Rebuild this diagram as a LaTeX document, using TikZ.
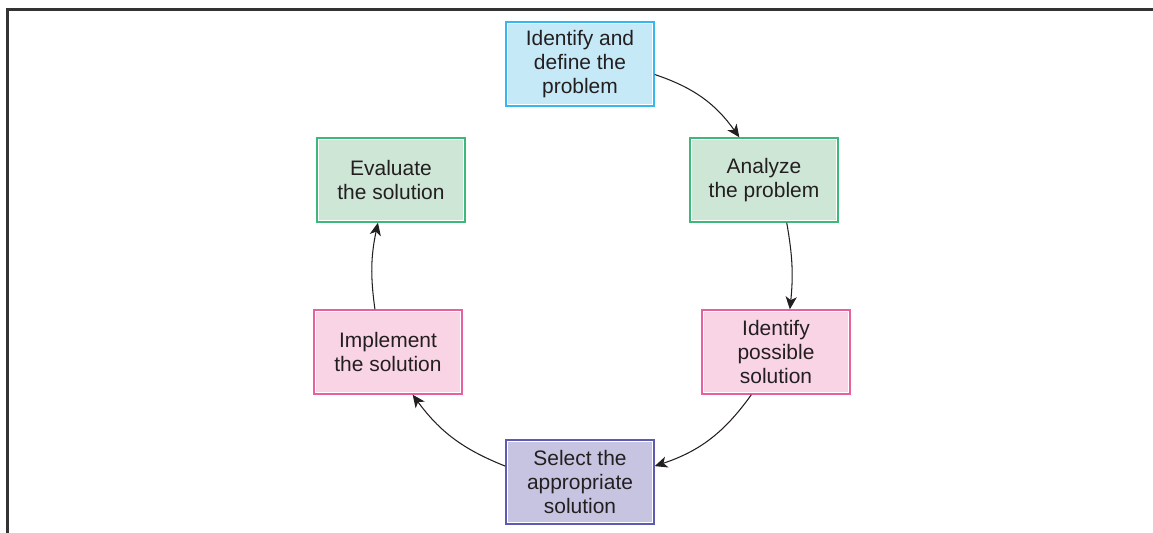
\documentclass[tikz,border=0pt]{standalone}
\usepackage{fontspec}
\setmainfont{Liberation Sans}
\usetikzlibrary{positioning, arrows.meta, calc}
\usepackage{xcolor}
\definecolor{pstext}{HTML}{231F20}
\definecolor{psframe}{HTML}{333333}
\definecolor{psblue}{HTML}{35B8F0}
\definecolor{psbluefill}{HTML}{C6E9F8}
\definecolor{psgreen}{HTML}{3DB87A}
\definecolor{psgreenfill}{HTML}{CDE6D6}
\definecolor{pspink}{HTML}{E9609F}
\definecolor{pspinkfill}{HTML}{F9D4E5}
\definecolor{pspurple}{HTML}{5D5AB3}
\definecolor{pspurplefill}{HTML}{C7C4E1}

\begin{document}
\begin{tikzpicture}[x=0.025cm, y=-0.025cm,
          stage/.style={line width=1pt, text=pstext, font=\fontsize{14.9}{17.1}\selectfont, align=center, minimum width=3.7cm, minimum height=2.1cm, inner sep=0pt},
          inner/.style={draw=white, line width=0.6pt},
          flow/.style={-{Stealth[length=9pt, width=8pt, inset=2.5pt]}, line width=0.75pt, pstext}]
        \useasboundingbox (0,0) rectangle (1153,533);
        \draw[psframe, line width=2pt] (7.5,533) |- (1153,9.5);
        \node[stage, draw=psblue, fill=psbluefill] (define) at (580,64) {Identify and\\define the\\problem};
        \node[stage, draw=psgreen, fill=psgreenfill] (analyze) at (764,180) {Analyze\\the problem};
        \node[stage, draw=pspink, fill=pspinkfill] (possible) at (776,352) {Identify\\possible\\solution};
        \node[stage, draw=pspurple, fill=pspurplefill] (select) at (580,482) {Select the\\appropriate\\solution};
        \node[stage, draw=pspink, fill=pspinkfill] (implement) at (388,352) {Implement\\the solution};
        \node[stage, draw=psgreen, fill=psgreenfill] (evaluate) at (391,180) {Evaluate\\the solution};
        \foreach \n in {define, analyze, possible, select, implement, evaluate}
          \draw[inner] ([shift={(1.6pt,-1.6pt)}]\n.north west) rectangle ([shift={(-1.6pt,1.6pt)}]\n.south east);
        \draw[flow] (define.-8) to[bend left=18] (analyze.120);
        \draw[flow] (analyze.-62) to[bend left=8] (possible.72);
        \draw[flow] (possible.-120) to[bend left=18] (select.12);
        \draw[flow] (select.168) to[bend left=16] (implement.-60);
        \draw[flow] (implement.107) to[bend left=10] (evaluate.-107);
      \end{tikzpicture}
\end{document}
